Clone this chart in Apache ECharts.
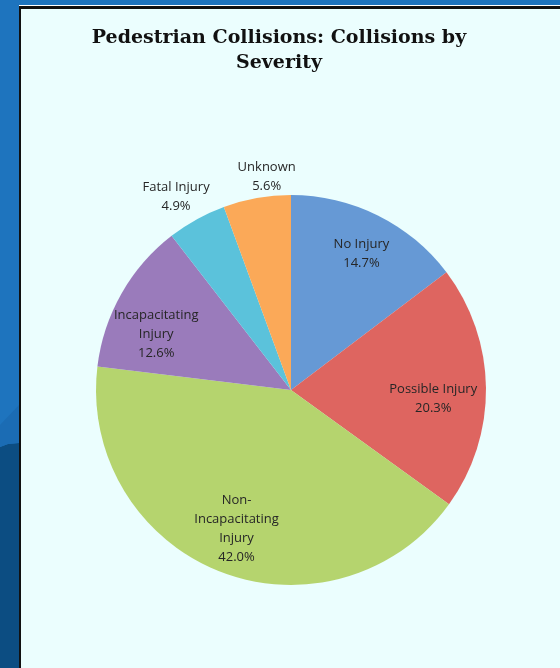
<!DOCTYPE html>
<html>
<head>
<meta charset="utf-8">
<style>
  html, body { margin: 0; padding: 0; background: #1E74BE; }
  #chart { width: 560px; height: 668px; }
</style>
<script src="https://cdn.jsdelivr.net/npm/echarts@6/dist/echarts.min.js"></script>
</head>
<body>
<div id="chart"></div>
<script>
// Collision severity shares (percent)
const categories = ['No Injury', 'Possible Injury', 'Non-Incapacitating Injury', 'Incapacitating Injury', 'Fatal Injury', 'Unknown'];
const labelLines = ['No Injury', 'Possible Injury', 'Non-\nIncapacitating\nInjury', 'Incapacitating\nInjury', 'Fatal Injury', 'Unknown'];
const shares = [14.7, 20.3, 42.0, 12.6, 4.9, 5.6];
const sliceColors = ['#6699D5', '#DE6560', '#B5D46E', '#9A7BBB', '#5BC2DB', '#FBA958'];
const outsideLabels = ['Fatal Injury', 'Unknown'];

const CX = 291, CY = 390, R = 195;
const labelFont = { fontFamily: 'Open Sans, Liberation Sans, sans-serif', fontSize: 13, color: '#262626', lineHeight: 19 };

// small label nudges so the text sits clear of neighbouring slices
const labelNudge = {
  'Possible Injury': [-7, 10],
  'Incapacitating Injury': [-5, 18],
  'Fatal Injury': [-6, 4],
  'Unknown': [15, 8],
  'No Injury': [4, -3]
};

const chart = echarts.init(document.getElementById('chart'), null, { renderer: 'canvas' });

const pieData = categories.map((name, i) => ({ name, value: shares[i], itemStyle: { color: sliceColors[i] } }));

// Transparent ring used only to place labels along each slice's mid-angle
function labelRing(inner, outer, showSet) {
  return {
    type: 'pie',
    silent: true,
    center: [CX, CY],
    radius: [inner, outer],
    startAngle: 90,
    clockwise: true,
    animation: false,
    z: 5,
    itemStyle: { color: 'rgba(0,0,0,0)' },
    labelLine: { show: false },
    data: categories.map((name, i) => ({
      name,
      value: shares[i],
      label: {
        show: showSet(name),
        position: 'inside',
        offset: labelNudge[name] || [0, 0],
        formatter: labelLines[i] + '\n' + shares[i].toFixed(1) + '%',
        ...labelFont
      }
    }))
  };
}

chart.setOption({
  backgroundColor: '#1E74BE',
  animation: false,
  title: {
    text: 'Pedestrian Collisions: Collisions by\nSeverity',
    left: 274,
    top: 21,
    textAlign: 'center',
    textStyle: {
      fontFamily: 'DejaVu Serif, Georgia, serif',
      fontWeight: 'bold',
      fontSize: 19,
      lineHeight: 25,
      color: '#111111'
    }
  },
  graphic: [
    // darker lower band of the slide background
    { type: 'polygon', z: -2, shape: { points: [[0, 447], [8, 444], [19, 443], [19, 668], [0, 668]] }, style: { fill: '#0C4D82' } },
    { type: 'polygon', z: -2, shape: { points: [[0, 425], [19, 405], [19, 443], [8, 444], [0, 447]] }, style: { fill: '#1B6CB4' } },
    // panel outline and fill
    { type: 'rect', z: -1, shape: { x: 19, y: 5, width: 560, height: 700 }, style: { fill: '#FFFFFF' } },
    { type: 'rect', z: -1, shape: { x: 19, y: 6, width: 560, height: 700 }, style: { fill: '#111111' } },
    { type: 'rect', z: -1, shape: { x: 21, y: 9, width: 560, height: 700 }, style: { fill: '#EBFEFE' } }
  ],
  series: [
    {
      type: 'pie',
      center: [CX, CY],
      radius: [0, R],
      startAngle: 90,
      clockwise: true,
      label: { show: false },
      labelLine: { show: false },
      emphasis: { disabled: true },
      data: pieData
    },
    labelRing(R / 2, R, name => !outsideLabels.includes(name)),
    labelRing(R, R + 54, name => outsideLabels.includes(name))
  ]
});
</script>
</body>
</html>
